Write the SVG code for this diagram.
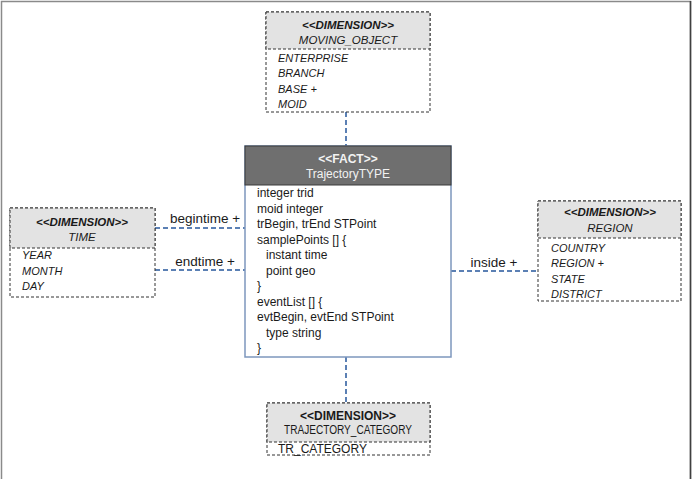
<svg xmlns="http://www.w3.org/2000/svg" width="693" height="479" viewBox="0 0 693 479">
<style>
  text { font-family: "Liberation Sans", Arial, sans-serif; font-size: 12px; fill: #1a1a1a; }
  .dim { fill: #ffffff; stroke: #333333; stroke-width: 1; stroke-dasharray: 3 2; }
  .dimhead { fill: #e3e3e3; stroke: #333333; stroke-width: 1; stroke-dasharray: 3 2; }
  .st { font-size: 11.5px; font-weight: bold; font-style: italic; text-anchor: middle; }
  .nm { font-size: 11.5px; font-style: italic; text-anchor: middle; }
  .at { font-size: 11px; font-style: italic; }
  .conn { stroke: #5b80b4; stroke-width: 2; stroke-dasharray: 5 3; fill: none; }
  .lbl { font-size: 13.5px; text-anchor: middle; }
  .fact { fill: #ffffff; stroke: #7d97bd; stroke-width: 1.5; }
  .facthead { fill: #6f6f6f; stroke: #3a3a3a; stroke-width: 1; }
  .fw { fill: #f2f2f2; text-anchor: middle; }
</style>
<rect x="0" y="0" width="693" height="479" fill="#ffffff"/>
<path d="M1.5 479 V1.5 H690.5 V479" fill="none" stroke="#8a8a8a" stroke-width="1.5"/>
<line x1="690.5" y1="1" x2="690.5" y2="479" stroke="#404040" stroke-width="1.5"/>

<g id="connectors">
  <line class="conn" x1="346" y1="112" x2="346" y2="146"/>
  <line class="conn" x1="346" y1="357" x2="346" y2="403"/>
  <line class="conn" x1="155" y1="228" x2="245" y2="228"/>
  <line class="conn" x1="155" y1="270" x2="245" y2="270"/>
  <line class="conn" x1="451" y1="271" x2="538" y2="271"/>
  <text class="lbl" x="205" y="223">begintime +</text>
  <text class="lbl" x="205" y="266">endtime +</text>
  <text class="lbl" x="494" y="267">inside +</text>
</g>

<g id="moving_object">
  <rect class="dim" x="266" y="12" width="164" height="100"/>
  <rect class="dimhead" x="266" y="12" width="164" height="37"/>
  <text class="st" x="348" y="29">&lt;&lt;DIMENSION&gt;&gt;</text>
  <text class="nm" x="348" y="44">MOVING_OBJECT</text>
  <text class="at" x="278" y="62">ENTERPRISE</text>
  <text class="at" x="278" y="77">BRANCH</text>
  <text class="at" x="278" y="93">BASE +</text>
  <text class="at" x="278" y="108">MOID</text>
</g>

<g id="fact">
  <rect class="fact" x="245" y="146" width="206" height="211"/>
  <rect class="facthead" x="245" y="146" width="206" height="39"/>
  <text class="fw" x="348" y="163" font-weight="bold">&lt;&lt;FACT&gt;&gt;</text>
  <text class="fw" x="348" y="178">TrajectoryTYPE</text>
  <text x="257" y="197">integer trid</text>
  <text x="257" y="213">moid integer</text>
  <text x="257" y="228">trBegin, trEnd STPoint</text>
  <text x="257" y="244">samplePoints [] {</text>
  <text x="266" y="259">instant time</text>
  <text x="266" y="275">point geo</text>
  <text x="257" y="290">}</text>
  <text x="257" y="306">eventList [] {</text>
  <text x="257" y="321">evtBegin, evtEnd STPoint</text>
  <text x="266" y="337">type string</text>
  <text x="257" y="352">}</text>
</g>

<g id="time">
  <rect class="dim" x="10" y="208" width="145" height="89"/>
  <rect class="dimhead" x="10" y="208" width="145" height="40"/>
  <text class="st" x="82" y="226">&lt;&lt;DIMENSION&gt;&gt;</text>
  <text class="nm" x="82" y="241">TIME</text>
  <text class="at" x="22" y="259">YEAR</text>
  <text class="at" x="22" y="275">MONTH</text>
  <text class="at" x="22" y="290">DAY</text>
</g>

<g id="region">
  <rect class="dim" x="538" y="201" width="143" height="100"/>
  <rect class="dimhead" x="538" y="201" width="143" height="37"/>
  <text class="st" x="610" y="216">&lt;&lt;DIMENSION&gt;&gt;</text>
  <text class="nm" x="610" y="232">REGION</text>
  <text class="at" x="551" y="252">COUNTRY</text>
  <text class="at" x="551" y="267">REGION +</text>
  <text class="at" x="551" y="283">STATE</text>
  <text class="at" x="551" y="298">DISTRICT</text>
</g>

<g id="trajectory_category">
  <rect class="dim" x="267" y="403" width="163" height="52"/>
  <rect class="dimhead" x="267" y="403" width="163" height="39"/>
  <text x="348" y="420" font-size="11.5" font-weight="bold" text-anchor="middle">&lt;&lt;DIMENSION&gt;&gt;</text>
  <text x="348" y="434" font-size="11.5" text-anchor="middle" textLength="128" lengthAdjust="spacingAndGlyphs">TRAJECTORY_CATEGORY</text>
  <text x="278" y="453" font-size="11">TR_CATEGORY</text>
</g>
</svg>
